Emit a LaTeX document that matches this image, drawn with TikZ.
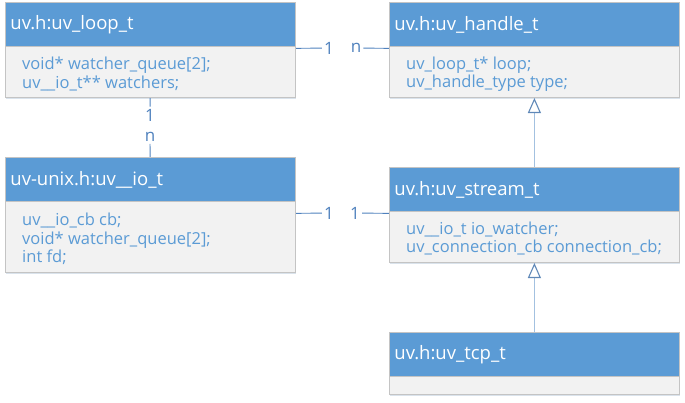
\documentclass[tikz,border=0pt]{standalone}
\usepackage{fontspec}
\setmainfont{Open Sans}
\usetikzlibrary{fit,arrows.meta,shadows}
\definecolor{hdrblue}{HTML}{5B9BD5}
\definecolor{bodygray}{HTML}{F2F2F2}
\definecolor{edgegray}{HTML}{C4C4C4}
\definecolor{txtblue}{HTML}{5B9BD5}
\definecolor{assocblue}{HTML}{4F81BD}
\definecolor{inhblue}{HTML}{A3C1E0}
\definecolor{tipblue}{HTML}{5F88B8}
\tikzset{
  boxshadow/.style={drop shadow={shadow xshift=1pt,shadow yshift=-1.5pt,opacity=0.25,fill=hdrblue!60!gray}},
  hdr/.style={rectangle, fill=hdrblue, draw=edgegray, line width=0.8pt, text=white,
    font=\fontsize{18.5}{22}\selectfont, minimum width=290, minimum height=44,
    text width=280, inner xsep=5pt, align=left, anchor=north west},
  bdy/.style={rectangle, fill=bodygray, draw=edgegray, line width=0.8pt, minimum width=290, anchor=north west, inner sep=0pt},
  bdytxt/.style={text=txtblue, font=\fontsize{16.5}{18.5}\selectfont, align=left, anchor=west, inner sep=0pt},
  whole/.style={inner sep=0pt},
  lbl/.style={text=assocblue, font=\fontsize{17}{18}\selectfont, inner sep=2pt},
  assoc/.style={draw=assocblue, line width=0.9pt},
  inh/.style={draw=inhblue, line width=1.6pt, -{Triangle[open, length=15pt, width=13pt, line width=1.1pt, color=tipblue, fill=white]}}
}
\begin{document}
\begin{tikzpicture}[x=1pt,y=-1pt]
\useasboundingbox (0,0) rectangle (685,402);
% uv_loop_t
\node[bdy, boxshadow, minimum height=51] (Ab) at (5,46) {};
\node[hdr] (Ah) at (5,2) {uv.h:uv\_loop\_t};
\node[bdytxt] (At) at (22,74) {void* watcher\_queue[2];\\uv\_\_io\_t** watchers;};
\node[whole, fit=(Ah)(Ab)] (A) {};
% uv_handle_t
\node[bdy, boxshadow, minimum height=51] (Bb) at (389,46) {};
\node[hdr] (Bh) at (389,2) {uv.h:uv\_handle\_t};
\node[bdytxt] (Bt) at (406,74) {uv\_loop\_t* loop;\\uv\_handle\_type type;};
\node[whole, fit=(Bh)(Bb)] (B) {};
% uv__io_t
\node[bdy, boxshadow, minimum height=71] (Cb) at (5,201) {};
\node[hdr] (Ch) at (5,157) {uv-unix.h:uv\_\_io\_t};
\node[bdytxt] (Ct) at (22,239) {uv\_\_io\_cb cb;\\void* watcher\_queue[2];\\int fd;};
\node[whole, fit=(Ch)(Cb)] (C) {};
% uv_stream_t
\node[bdy, boxshadow, minimum height=51] (Db) at (389,211) {};
\node[hdr] (Dh) at (389,167) {uv.h:uv\_stream\_t};
\node[bdytxt] (Dt) at (406,238.5) {uv\_\_io\_t io\_watcher;\\uv\_connection\_cb connection\_cb;};
\node[whole, fit=(Dh)(Db)] (D) {};
% uv_tcp_t
\node[bdy, boxshadow, minimum height=18] (Eb) at (389,376) {};
\node[hdr] (Eh) at (389,332) {uv.h:uv\_tcp\_t};
\node[whole, fit=(Eh)(Eb)] (E) {};
% associations
\node[lbl] (a1) at (329,48) {1};
\node[lbl] (an) at (356,48) {n};
\draw[assoc] (A) -- (a1);
\draw[assoc] (an) -- (B);
\node[lbl] (v1) at (150,115) {1};
\node[lbl] (vn) at (150,137) {n};
\draw[assoc] (A) -- (v1);
\draw[assoc] (vn) -- (C);
\node[lbl] (c1) at (329,213) {1};
\node[lbl] (c2) at (355,213) {1};
\draw[assoc] (C) -- (c1);
\draw[assoc] (c2) -- (D);
% inheritance
\draw[inh] (D) -- (B);
\draw[inh] (E) -- (D);
\end{tikzpicture}
\end{document}
